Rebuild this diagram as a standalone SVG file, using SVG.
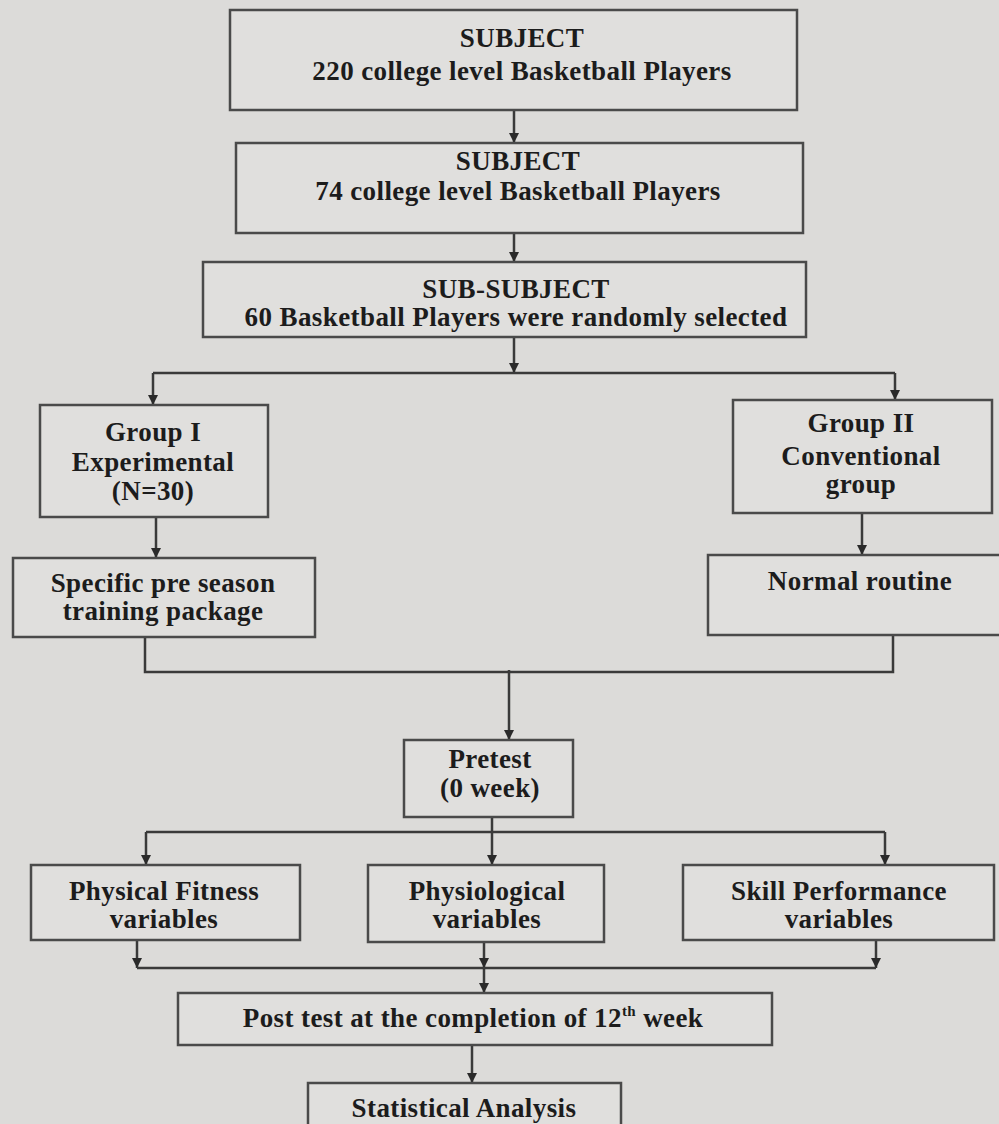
<svg xmlns="http://www.w3.org/2000/svg" width="999" height="1124" viewBox="0 0 999 1124">
<defs>
<marker id="ah" viewBox="0 0 10 10" refX="10" refY="5" markerWidth="10" markerHeight="10" markerUnits="userSpaceOnUse" orient="auto">
<path d="M0,0 L10,5 L0,10 z" fill="#2a2a2a"/>
</marker>
<style>
.bx{fill:#e0dfdd;stroke:#4a4a4a;stroke-width:2.5}
.t{font-family:"Liberation Serif","Times New Roman",serif;font-weight:bold;font-size:27px;letter-spacing:0.4px;fill:#1c1c1c;text-anchor:middle}
.c{fill:none;stroke:#3a3a3a;stroke-width:2.5}
.a{marker-end:url(#ah)}
</style>
</defs>
<rect x="0" y="0" width="999" height="1124" fill="#dcdbd9"/>
<g id="connectors">
<path class="c a" d="M514,110 V143"/>
<path class="c a" d="M514,233 V262"/>
<path class="c a" d="M514,337 V373"/>
<path class="c" d="M153,373 H895"/>
<path class="c a" d="M153,373 V405"/>
<path class="c a" d="M895,373 V400"/>
<path class="c a" d="M156,517 V558"/>
<path class="c a" d="M862,513 V555"/>
<path class="c" d="M145,637 V672 H893 V635"/>
<path class="c a" d="M509,670 V740"/>
<path class="c" d="M492,817 V832"/>
<path class="c" d="M146,832 H885"/>
<path class="c a" d="M146,832 V865"/>
<path class="c a" d="M492,832 V865"/>
<path class="c a" d="M885,832 V865"/>
<path class="c a" d="M137,940 V968"/>
<path class="c a" d="M484,942 V968"/>
<path class="c a" d="M876,940 V968"/>
<path class="c" d="M137,968 H876"/>
<path class="c a" d="M484,968 V993"/>
<path class="c a" d="M472,1045 V1083"/>
</g>
<g id="n1"><rect class="bx" x="230" y="10" width="567" height="100"/>
<text class="t" x="522" y="47">SUBJECT</text><text class="t" x="522" y="80">220 college level Basketball Players</text></g>
<g id="n2"><rect class="bx" x="236" y="143" width="567" height="90"/>
<text class="t" x="518" y="170">SUBJECT</text><text class="t" x="518" y="200">74 college level Basketball Players</text></g>
<g id="n3"><rect class="bx" x="203" y="262" width="603" height="75"/>
<text class="t" x="516" y="298">SUB-SUBJECT</text><text class="t" x="516" y="326">60 Basketball Players were randomly selected</text></g>
<g id="n4"><rect class="bx" x="40" y="405" width="228" height="112"/>
<text class="t" x="153" y="441">Group I</text><text class="t" x="153" y="471">Experimental</text><text class="t" x="153" y="500">(N=30)</text></g>
<g id="n5"><rect class="bx" x="733" y="400" width="259" height="113"/>
<text class="t" x="861" y="432">Group II</text><text class="t" x="861" y="465">Conventional</text><text class="t" x="861" y="493">group</text></g>
<g id="n6"><rect class="bx" x="13" y="558" width="302" height="79"/>
<text class="t" x="163" y="592">Specific pre season</text><text class="t" x="163" y="620">training package</text></g>
<g id="n7"><rect class="bx" x="708" y="555" width="300" height="80"/>
<text class="t" x="860" y="590">Normal routine</text></g>
<g id="n8"><rect class="bx" x="404" y="740" width="169" height="77"/>
<text class="t" x="490" y="768">Pretest</text><text class="t" x="490" y="797">(0 week)</text></g>
<g id="n9"><rect class="bx" x="31" y="865" width="269" height="75"/>
<text class="t" x="164" y="900">Physical Fitness</text><text class="t" x="164" y="928">variables</text></g>
<g id="n10"><rect class="bx" x="368" y="865" width="236" height="77"/>
<text class="t" x="487" y="900">Physiological</text><text class="t" x="487" y="928">variables</text></g>
<g id="n11"><rect class="bx" x="683" y="865" width="311" height="75"/>
<text class="t" x="839" y="900">Skill Performance</text><text class="t" x="839" y="928">variables</text></g>
<g id="n12"><rect class="bx" x="178" y="993" width="594" height="52"/>
<text class="t" x="473" y="1027">Post test at the completion of 12<tspan font-size="15" dy="-11">th</tspan><tspan dy="11"> week</tspan></text></g>
<g id="n13"><rect class="bx" x="308" y="1083" width="313" height="50"/>
<text class="t" x="464" y="1117">Statistical Analysis</text></g>
</svg>
